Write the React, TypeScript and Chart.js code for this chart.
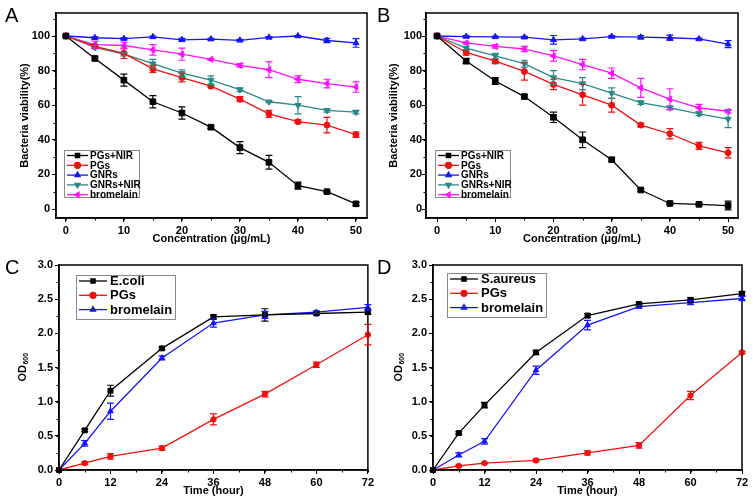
import React, { useEffect, useRef } from 'react';
import { Chart, registerables } from 'chart.js';
import { drawPoint } from 'chart.js/helpers';

Chart.register(...registerables);

const FONT = "'Liberation Sans', Arial, Helvetica, sans-serif";

// ---------- data ----------
const concentrations = [0, 5, 10, 15, 20, 25, 30, 35, 40, 45, 50];
const hours = [0, 6, 12, 24, 36, 48, 60, 72];

// Panel A
const aPgsNir = [100, 87, 74.5, 62, 55.5, 47.3, 35.5, 27, 13.5, 10, 3];
const aPgsNirErr = [0, 1, 3.5, 3.5, 3.5, 0.8, 3.5, 4, 2, 0.5, 1];
const aPgs = [100, 94, 90, 81, 76, 71, 63.5, 55, 50.5, 48.5, 43];
const aPgsErr = [0, 1, 3, 2, 2.5, 0.8, 1.5, 2, 1, 4.5, 1.5];
const aGnrs = [100, 99, 98.5, 99.5, 97.8, 98.2, 97.5, 99.2, 100, 97.4, 96];
const aGnrsErr = [0, 0.5, 0.5, 0.5, 0.8, 0.5, 0.5, 0.5, 0.3, 1.2, 2.5];
const aGnrsNir = [100, 93.5, 89.5, 84, 78.5, 74.5, 69, 62, 60, 57, 56];
const aGnrsNirErr = [0, 1, 1, 2.5, 2, 2.5, 1, 0.5, 5, 1, 1];
const aBromelain = [100, 95, 94.5, 92, 89.5, 86.5, 83, 80.5, 75, 72.5, 70.5];
const aBromelainErr = [0, 2, 2, 3, 3.5, 0.5, 1, 4.5, 2, 2.5, 3];

// Panel B
const bPgsNir = [100, 85.5, 74, 65, 53, 40, 28.5, 11, 3.2, 2.7, 2];
const bPgsNirErr = [0, 1.5, 2, 1, 3, 4.5, 1, 0.8, 0.5, 0.5, 2.5];
const bPgs = [100, 90.5, 85.5, 79.5, 72, 66, 60, 48.5, 43.5, 36.5, 32.5];
const bPgsErr = [0, 1.5, 1.5, 5, 3, 6, 4, 1, 3, 2, 3];
const bGnrs = [100, 99.7, 99.5, 99.3, 97.8, 98.3, 99.7, 99.3, 99, 98.3, 95.3];
const bGnrsErr = [0, 0.5, 0.5, 0.5, 2.5, 0.5, 0.5, 1, 1.5, 0.5, 2];
const bGnrsNir = [100, 93, 88.5, 84, 76, 72.5, 67, 61.5, 58.5, 55, 52];
const bGnrsNirErr = [0, 1, 1.5, 2, 4, 3.5, 3, 1, 1, 1, 5];
const bBromelain = [100, 96, 94, 92.5, 88.5, 83.5, 78.5, 70, 63.5, 58.5, 56.5];
const bBromelainErr = [0, 0.5, 1, 1.5, 3, 3, 3, 5.5, 6, 2, 1];

// Panel C
const cEcoli = [0, 0.58, 1.16, 1.78, 2.24, 2.27, 2.29, 2.31];
const cEcoliErr = [0, 0.02, 0.08, 0.02, 0.03, 0.09, 0.02, 0.03];
const cPgs = [0, 0.1, 0.2, 0.32, 0.74, 1.11, 1.54, 1.98];
const cPgsErr = [0, 0.02, 0.04, 0.03, 0.08, 0.04, 0.04, 0.15];
const cBromelain = [0, 0.39, 0.86, 1.64, 2.15, 2.27, 2.31, 2.38];
const cBromelainErr = [0, 0.04, 0.12, 0.03, 0.06, 0.05, 0.02, 0.04];

// Panel D
const dSaureus = [0, 0.54, 0.95, 1.72, 2.26, 2.43, 2.49, 2.58];
const dSaureusErr = [0, 0.02, 0.04, 0.03, 0.03, 0.02, 0.03, 0.03];
const dPgs = [0, 0.06, 0.1, 0.14, 0.25, 0.36, 1.09, 1.72];
const dPgsErr = [0, 0.01, 0.01, 0.02, 0.03, 0.04, 0.06, 0.02];
const dBromelain = [0, 0.22, 0.42, 1.46, 2.12, 2.39, 2.45, 2.51];
const dBromelainErr = [0, 0.03, 0.04, 0.06, 0.07, 0.02, 0.03, 0.03];

// ---------- styles ----------
const BLACK = '#000000';
const RED = '#f01010';
const BLUE = '#1515ff';
const TEAL = '#2a8888';
const MAGENTA = '#ff10ff';

type SeriesSpec = {
  label: string;
  color: string;
  style: string;
  rotation?: number;
  radius: number;
  values: number[];
  errors: number[];
};

type PanelSpec = {
  letter: string;
  left: number;
  top: number;
  width: number;
  height: number;
  xs: number[];
  series: SeriesSpec[];
  yW: number;
  padR: number;
  padTop: number;
  xH: number;
  xMin: number;
  xMax: number;
  xStep: number;
  xMinor: number;
  yMin: number;
  yMax: number;
  yStep: number;
  yMinor: number;
  yDecimals: number;
  yTickPad: number;
  yTitle: string | null;
  yTitleCenter: number;
  odTitle: boolean;
  xTitle: string;
  xTitleFromBottom: number;
  legend: any;
};

// ---------- plugins ----------
const framePlugin = {
  id: 'frame',
  afterDatasetsDraw(chart: any) {
    const { ctx, chartArea: ca } = chart;
    ctx.save();
    ctx.strokeStyle = '#000';
    ctx.lineWidth = 1.5;
    ctx.strokeRect(ca.left, ca.top, ca.right - ca.left, ca.bottom - ca.top);
    ctx.restore();
  },
};

const minorTickPlugin = {
  id: 'minorTicks',
  afterDraw(chart: any, _a: any, opts: any) {
    if (!opts || !opts.x) return;
    const { ctx, chartArea: ca } = chart;
    const xs = chart.scales.x;
    const ys = chart.scales.y;
    ctx.save();
    ctx.strokeStyle = '#000';
    ctx.lineWidth = 1;
    ctx.beginPath();
    const len = 2.5;
    for (let v = Math.ceil(xs.min / opts.x) * opts.x; v <= xs.max + 1e-9; v += opts.x) {
      const px = Math.round(xs.getPixelForValue(v)) + 0.5;
      ctx.moveTo(px, ca.bottom);
      ctx.lineTo(px, ca.bottom + len);
    }
    for (let v = Math.ceil(ys.min / opts.y) * opts.y; v <= ys.max + 1e-9; v += opts.y) {
      const py = Math.round(ys.getPixelForValue(v)) + 0.5;
      ctx.moveTo(ca.left, py);
      ctx.lineTo(ca.left - len, py);
    }
    ctx.stroke();
    ctx.restore();
  },
};

const errorBarPlugin = {
  id: 'errorBars',
  afterDatasetsDraw(chart: any) {
    const { ctx } = chart;
    const xs = chart.scales.x;
    const ys = chart.scales.y;
    chart.data.datasets.forEach((ds: any) => {
      const errs: number[] = ds.errors;
      if (!errs) return;
      ctx.save();
      ctx.strokeStyle = ds.borderColor;
      ctx.lineWidth = 1.2;
      ctx.beginPath();
      ds.data.forEach((p: any, j: number) => {
        const e = errs[j];
        if (!e) return;
        const px = xs.getPixelForValue(p.x);
        const y0 = ys.getPixelForValue(p.y - e);
        const y1 = ys.getPixelForValue(p.y + e);
        ctx.moveTo(px, y0);
        ctx.lineTo(px, y1);
        ctx.moveTo(px - 3.5, y0);
        ctx.lineTo(px + 3.5, y0);
        ctx.moveTo(px - 3.5, y1);
        ctx.lineTo(px + 3.5, y1);
      });
      ctx.stroke();
      ctx.restore();
    });
  },
};

const boxLegendPlugin = {
  id: 'boxLegend',
  afterDraw(chart: any, _a: any, o: any) {
    if (!o || o.x === undefined) return;
    const { ctx } = chart;
    ctx.save();
    ctx.fillStyle = '#fff';
    ctx.fillRect(o.x, o.y, o.w, o.h);
    ctx.strokeStyle = '#8a8a8a';
    ctx.lineWidth = 1;
    ctx.strokeRect(o.x + 0.5, o.y + 0.5, o.w, o.h);
    chart.data.datasets.forEach((ds: any, i: number) => {
      const cy = o.y + o.first + i * o.rowH;
      ctx.strokeStyle = ds.borderColor;
      ctx.lineWidth = 1.3;
      ctx.beginPath();
      ctx.moveTo(o.x + o.lineX0, cy);
      ctx.lineTo(o.x + o.lineX1, cy);
      ctx.stroke();
      ctx.fillStyle = ds.borderColor;
      drawPoint(
        ctx,
        {
          pointStyle: ds.pointStyle,
          rotation: ds.pointRotation || 0,
          radius: o.pointRadius,
          borderWidth: 1,
        } as any,
        o.x + (o.lineX0 + o.lineX1) / 2,
        cy
      );
      ctx.fillStyle = '#000';
      ctx.font = o.font;
      ctx.textAlign = 'left';
      ctx.textBaseline = 'middle';
      ctx.fillText(ds.label, o.x + o.textX, cy + 0.5);
    });
    ctx.restore();
  },
};

const odTitlePlugin = {
  id: 'odTitle',
  afterDraw(chart: any, _a: any, o: any) {
    if (!o || !o.show) return;
    const { ctx, chartArea: ca } = chart;
    ctx.save();
    ctx.translate(o.x, (ca.top + ca.bottom) / 2);
    ctx.rotate(-Math.PI / 2);
    ctx.fillStyle = '#000';
    ctx.textAlign = 'left';
    ctx.textBaseline = 'middle';
    ctx.font = `bold 11px ${FONT}`;
    const w1 = ctx.measureText('OD').width;
    ctx.font = `bold 7px ${FONT}`;
    const w2 = ctx.measureText('600').width;
    const start = -(w1 + w2) / 2;
    ctx.font = `bold 11px ${FONT}`;
    ctx.fillText('OD', start, 0);
    ctx.font = `bold 7px ${FONT}`;
    ctx.fillText('600', start + w1 + 0.5, 3.5);
    ctx.restore();
  },
};

// ---------- panel specs ----------
const abSeries = (
  pn: number[], pnE: number[], p: number[], pE: number[], g: number[], gE: number[],
  gn: number[], gnE: number[], br: number[], brE: number[]
): SeriesSpec[] => [
  { label: 'PGs+NIR', color: BLACK, style: 'rect', radius: 4, values: pn, errors: pnE },
  { label: 'PGs', color: RED, style: 'circle', radius: 3, values: p, errors: pE },
  { label: 'GNRs', color: BLUE, style: 'triangle', radius: 3.5, values: g, errors: gE },
  { label: 'GNRs+NIR', color: TEAL, style: 'triangle', rotation: 180, radius: 3.5, values: gn, errors: gnE },
  { label: 'bromelain', color: MAGENTA, style: 'triangle', rotation: 270, radius: 3.5, values: br, errors: brE },
];

const legendAB = (x: number) => ({
  x, y: 150, w: 75, h: 47, first: 5.5, rowH: 9.8, lineX0: 3, lineX1: 24, textX: 26,
  font: `bold 10px ${FONT}`, pointRadius: 3,
});

const legendCD = (x: number, y: number) => ({
  x, y, w: 99, h: 44, first: 6, rowH: 14.3, lineX0: 3, lineX1: 31, textX: 34,
  font: `bold 13px ${FONT}`, pointRadius: 3,
});

const panels: PanelSpec[] = [
  {
    letter: 'A', left: 0, top: 0, width: 376, height: 252, xs: concentrations,
    series: abSeries(aPgsNir, aPgsNirErr, aPgs, aPgsErr, aGnrs, aGnrsErr, aGnrsNir, aGnrsNirErr, aBromelain, aBromelainErr),
    yW: 56, padR: 9, padTop: 13, xH: 34,
    xMin: -1.7, xMax: 51.9, xStep: 10, xMinor: 5,
    yMin: -5.2, yMax: 113.3, yStep: 20, yMinor: 10, yDecimals: 0, yTickPad: 2,
    yTitle: 'Bacteria viability(%)', yTitleCenter: 25, odTitle: false,
    xTitle: 'Concentration (μg/mL)', xTitleFromBottom: 13,
    legend: legendAB(64),
  },
  {
    letter: 'B', left: 376, top: 0, width: 377, height: 252, xs: concentrations,
    series: abSeries(bPgsNir, bPgsNirErr, bPgs, bPgsErr, bGnrs, bGnrsErr, bGnrsNir, bGnrsNirErr, bBromelain, bBromelainErr),
    yW: 50, padR: 15, padTop: 13, xH: 34,
    xMin: -1.9, xMax: 51.7, xStep: 10, xMinor: 5,
    yMin: -5.2, yMax: 113.3, yStep: 20, yMinor: 10, yDecimals: 0, yTickPad: 0,
    yTitle: 'Bacteria viability(%)', yTitleCenter: 18, odTitle: false,
    xTitle: 'Concentration (μg/mL)', xTitleFromBottom: 13,
    legend: legendAB(59),
  },
  {
    letter: 'C', left: 0, top: 252, width: 376, height: 252, xs: hours,
    series: [
      { label: 'E.coli', color: BLACK, style: 'rect', radius: 3.5, values: cEcoli, errors: cEcoliErr },
      { label: 'PGs', color: RED, style: 'circle', radius: 2.7, values: cPgs, errors: cPgsErr },
      { label: 'bromelain', color: BLUE, style: 'triangle', radius: 3.2, values: cBromelain, errors: cBromelainErr },
    ],
    yW: 59, padR: 6, padTop: 13, xH: 34,
    xMin: 0, xMax: 72, xStep: 12, xMinor: 6,
    yMin: 0, yMax: 3, yStep: 0.5, yMinor: 0.25, yDecimals: 1, yTickPad: 2,
    yTitle: null, yTitleCenter: 23, odTitle: true,
    xTitle: 'Time (hour)', xTitleFromBottom: 13,
    legend: legendCD(76, 23),
  },
  {
    letter: 'D', left: 376, top: 252, width: 377, height: 252, xs: hours,
    series: [
      { label: 'S.aureus', color: BLACK, style: 'rect', radius: 3.5, values: dSaureus, errors: dSaureusErr },
      { label: 'PGs', color: RED, style: 'circle', radius: 2.7, values: dPgs, errors: dPgsErr },
      { label: 'bromelain', color: BLUE, style: 'triangle', radius: 3.2, values: dBromelain, errors: dBromelainErr },
    ],
    yW: 57, padR: 11, padTop: 13, xH: 34,
    xMin: 0, xMax: 72, xStep: 12, xMinor: 6,
    yMin: 0, yMax: 3, yStep: 0.5, yMinor: 0.25, yDecimals: 1, yTickPad: 2,
    yTitle: null, yTitleCenter: 23, odTitle: true,
    xTitle: 'Time (hour)', xTitleFromBottom: 13,
    legend: legendCD(71, 21),
  },
];

function buildConfig(p: PanelSpec): any {
  const tickFont = { family: FONT, size: 11, weight: 'bold' as const };
  const titleFont = { family: FONT, size: 11, weight: 'bold' as const };
  const datasets = p.series.map((s) => ({
    label: s.label,
    data: p.xs.map((x, i) => ({ x, y: s.values[i] })),
    errors: s.errors,
    borderColor: s.color,
    backgroundColor: s.color,
    pointBackgroundColor: s.color,
    pointBorderColor: s.color,
    pointStyle: s.style,
    pointRotation: s.rotation || 0,
    pointRadius: s.radius,
    pointBorderWidth: 1,
    borderWidth: 1.3,
    tension: 0,
    clip: false,
  }));
  const grid = {
    display: true,
    drawOnChartArea: false,
    drawTicks: true,
    tickLength: 4,
    color: '#000',
    lineWidth: 1,
  };
  const border = { display: true, color: '#000', width: 1.5 };
  return {
    type: 'line',
    data: { datasets },
    plugins: [framePlugin, errorBarPlugin, minorTickPlugin, boxLegendPlugin, odTitlePlugin],
    options: {
      animation: false,
      responsive: false,
      maintainAspectRatio: false,
      devicePixelRatio: 1,
      layout: { padding: { left: 0, top: p.padTop, right: p.padR, bottom: 0 } },
      scales: {
        x: {
          type: 'linear',
          min: p.xMin,
          max: p.xMax,
          grid,
          border,
          ticks: {
            stepSize: p.xStep,
            includeBounds: false,
            autoSkip: false,
            maxRotation: 0,
            color: '#000',
            padding: 2,
            font: tickFont,
            callback: (v: number) => String(v),
          },
          title: {
            display: true,
            text: p.xTitle,
            color: '#000',
            font: titleFont,
            padding: { top: 0, bottom: p.xTitleFromBottom - 6.6 },
          },
          afterFit: (s: any) => {
            s.height = p.xH;
          },
        },
        y: {
          type: 'linear',
          min: p.yMin,
          max: p.yMax,
          grid,
          border,
          ticks: {
            stepSize: p.yStep,
            includeBounds: false,
            autoSkip: false,
            color: '#000',
            padding: p.yTickPad,
            font: tickFont,
            callback: (v: number) => Number(v).toFixed(p.yDecimals),
          },
          title: {
            display: !!p.yTitle,
            text: p.yTitle || '',
            color: '#000',
            font: titleFont,
            padding: { top: p.yTitleCenter - 6.6, bottom: 0 },
          },
          afterFit: (s: any) => {
            s.width = p.yW;
          },
        },
      },
      plugins: {
        legend: { display: false },
        tooltip: { enabled: false },
        minorTicks: { x: p.xMinor, y: p.yMinor },
        boxLegend: p.legend,
        odTitle: { show: p.odTitle, x: p.yTitleCenter },
      },
    },
  };
}

function Panel({ spec }: { spec: PanelSpec }) {
  const ref = useRef<HTMLCanvasElement | null>(null);
  useEffect(() => {
    if (!ref.current) return;
    const chart = new Chart(ref.current, buildConfig(spec));
    return () => chart.destroy();
  }, [spec]);
  return (
    <div style={{ position: 'absolute', left: spec.left, top: spec.top, width: spec.width, height: spec.height }}>
      <canvas ref={ref} width={spec.width} height={spec.height} style={{ width: spec.width, height: spec.height, display: 'block' }} />
      <div
        style={{
          position: 'absolute',
          left: spec.left === 0 ? 5 : 1,
          top: 5,
          fontFamily: FONT,
          fontSize: 20,
          lineHeight: '20px',
          color: '#000',
        }}
      >
        {spec.letter}
      </div>
    </div>
  );
}

export default function App() {
  return (
    <div style={{ position: 'absolute', left: 0, top: 0, width: 753, height: 504, background: '#fff', overflow: 'hidden' }}>
      {panels.map((p) => (
        <Panel key={p.letter} spec={p} />
      ))}
    </div>
  );
}
